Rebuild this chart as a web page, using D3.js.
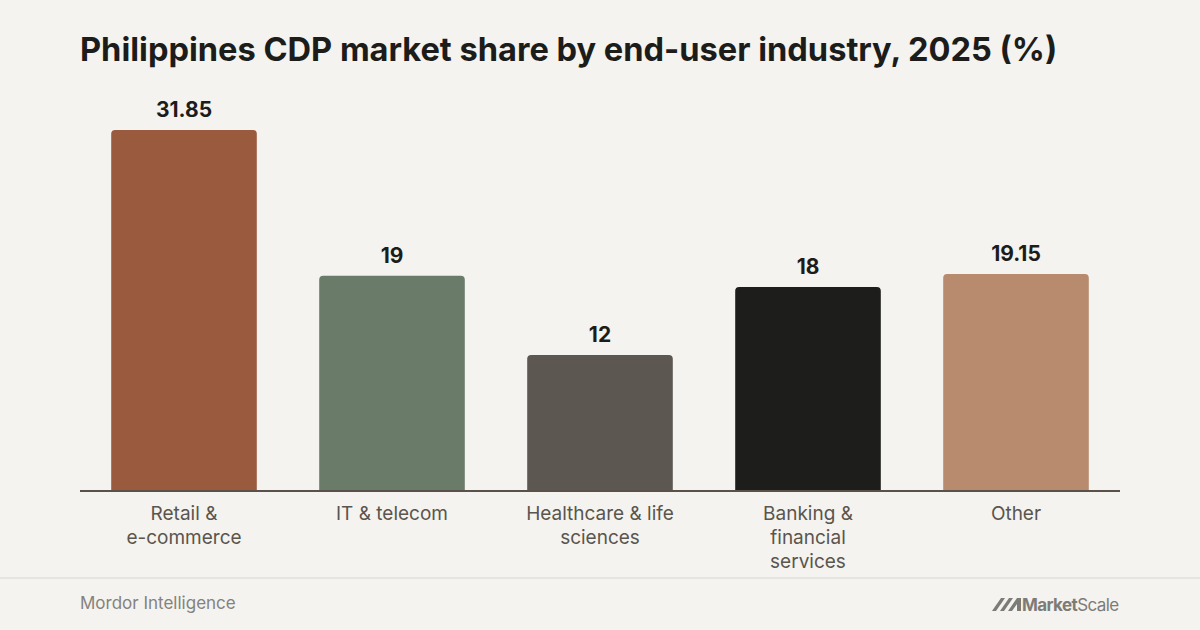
<!DOCTYPE html>
<html>
<head>
<meta charset="utf-8">
<script src="https://cdn.jsdelivr.net/npm/d3@7"></script>
<style>
  html, body { margin: 0; padding: 0; background: #f4f3ef; }
  svg { display: block; font-family: Inter, "Noto Sans", sans-serif; }
</style>
</head>
<body>
<div id="chart"></div>
<script>
// Chart data
const categories = [
    ["Retail &", "e-commerce"],
    ["IT & telecom"],
    ["Healthcare & life", "sciences"],
    ["Banking &", "financial", "services"],
    ["Other"]
];
const values = [31.85, 19, 12, 18, 19.15];
const valueLabels = ["31.85", "19", "12", "18", "19.15"];
const barColors = ["#9a5a3e", "#6b7b6a", "#5c5750", "#1d1d1b", "#b98b6e"];

const width = 1200;
const height = 630;
const margin = { top: 130, right: 80, bottom: 139, left: 80 };

const svg = d3.select("#chart").append("svg")
    .attr("width", width)
    .attr("height", height);

svg.append("rect")
    .attr("width", width)
    .attr("height", height)
    .attr("fill", "#f4f3ef");

// Title
svg.append("text")
    .attr("x", 80)
    .attr("y", 61)
    .attr("fill", "#1c1c1a")
    .style("font-size", "32.6px")
    .style("font-weight", 700)
    .text("Philippines CDP market share by end-user industry, 2025 (%)");

const xScale = d3.scaleBand()
    .domain(d3.range(values.length))
    .range([margin.left, width - margin.right])
    .paddingInner(0.3)
    .paddingOuter(0.15);

const yScale = d3.scaleLinear()
    .domain([0, d3.max(values)])
    .range([height - margin.bottom, margin.top]);

// Bars with rounded top corners only
const r = 4;
function barPath(x, y, w, h) {
    return `M${x},${y + h}V${y + r}Q${x},${y} ${x + r},${y}H${x + w - r}Q${x + w},${y} ${x + w},${y + r}V${y + h}Z`;
}

svg.selectAll(".bar")
    .data(values)
    .enter()
    .append("path")
    .attr("class", "bar")
    .attr("d", (d, i) => barPath(xScale(i), yScale(d), xScale.bandwidth(), yScale(0) - yScale(d)))
    .attr("fill", (d, i) => barColors[i]);

// Value labels
svg.selectAll(".value")
    .data(values)
    .enter()
    .append("text")
    .attr("class", "value")
    .attr("x", (d, i) => xScale(i) + xScale.bandwidth() / 2)
    .attr("y", d => yScale(d) - 13)
    .attr("text-anchor", "middle")
    .attr("fill", "#1c1c1a")
    .style("font-size", "21px")
    .style("font-weight", 700)
    .text((d, i) => valueLabels[i]);

// Baseline axis
const xAxis = svg.append("g")
    .attr("transform", `translate(0,${yScale(0)})`)
    .call(d3.axisBottom(xScale).tickSize(0).tickFormat(""));
xAxis.select(".domain")
    .attr("stroke", "#5a524a")
    .attr("stroke-width", 2)
    .attr("d", `M${margin.left},0H${width - margin.right}`);

// Category labels
const catLabels = svg.selectAll(".cat")
    .data(categories)
    .enter()
    .append("text")
    .attr("class", "cat")
    .attr("x", (d, i) => xScale(i) + xScale.bandwidth() / 2)
    .attr("y", yScale(0) + 29)
    .attr("text-anchor", "middle")
    .attr("fill", "#5a554e")
    .style("font-size", "19px");

catLabels.selectAll("tspan")
    .data(d => d)
    .enter()
    .append("tspan")
    .attr("x", function () { return d3.select(this.parentNode).attr("x"); })
    .attr("dy", (d, i) => i === 0 ? 0 : 24)
    .text(d => d);

// Footer
svg.append("line")
    .attr("x1", 0)
    .attr("x2", width)
    .attr("y1", 578)
    .attr("y2", 578)
    .attr("stroke", "#e6e4df")
    .attr("stroke-width", 2);

svg.append("text")
    .attr("x", 80)
    .attr("y", 609)
    .attr("fill", "#85827e")
    .style("font-size", "17px")
    .text("Mordor Intelligence");

// MarketScale logo
const logo = svg.append("g")
    .attr("transform", "translate(992,597)")
    .attr("fill", "#7d7b78");
logo.append("path").attr("d", "M0,14L9,1H13L4,14Z");
logo.append("path").attr("d", "M8,14L17,1H21L12,14Z");
logo.append("path").attr("d", "M16,14L25,1H29V14H25V7L20,14Z");
const logoText = logo.append("text")
    .attr("x", 30)
    .attr("y", 14)
    .style("font-size", "17px")
    .style("letter-spacing", "-0.6px");
logoText.append("tspan").style("font-weight", 700).text("Market");
logoText.append("tspan").style("font-weight", 400).text("Scale");
</script>
</body>
</html>
